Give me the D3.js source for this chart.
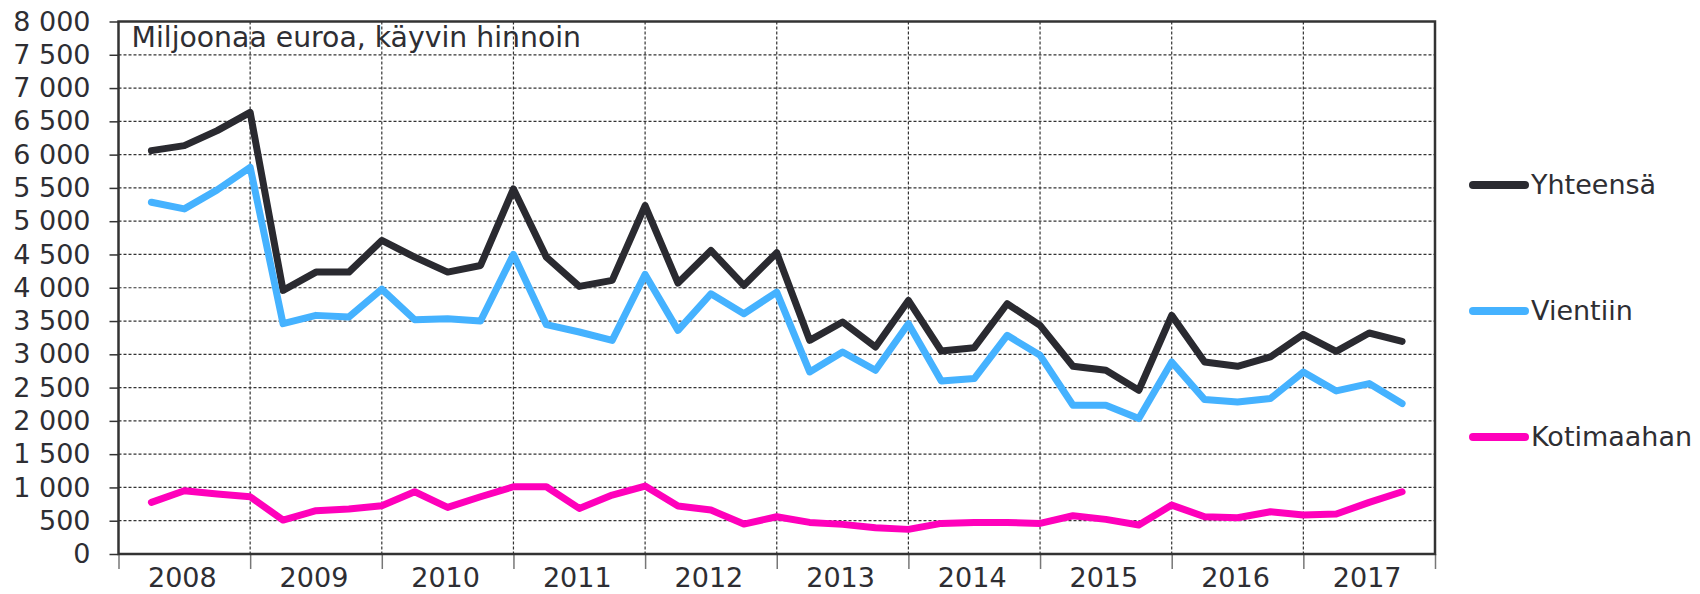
<!DOCTYPE html>
<html>
<head>
<meta charset="utf-8">
<script src="https://cdn.jsdelivr.net/npm/d3@7"></script>
<style>
	body { margin: 0; background: #fff; }
	text { font-family: "DejaVu Sans", Verdana, sans-serif; fill: #2e2e33; }
</style>
</head>
<body>
<div id="chart-area"></div>
<script>

// data: quarterly, 2008Q1 - 2017Q3 (million euro)
let years = ["2008", "2009", "2010", "2011", "2012", "2013", "2014", "2015", "2016", "2017"];
let seriesNames = ["Yhteensä", "Vientiin", "Kotimaahan"];
let yhteensa = [6060, 6135, 6360, 6635, 3960, 4235, 4235, 4710, 4460, 4235, 4335, 5485,
	4460, 4020, 4110, 5235, 4070, 4560, 4035, 4525, 3210, 3485, 3110, 3810,
	3050, 3100, 3760, 3435, 2820, 2760, 2460, 3585, 2885, 2820, 2960, 3300,
	3045, 3320, 3195];
let vientiin = [5285, 5185, 5470, 5810, 3460, 3585, 3560, 3980, 3520, 3535, 3500, 4500,
	3445, 3335, 3210, 4200, 3360, 3910, 3610, 3935, 2735, 3035, 2760, 3460,
	2600, 2635, 3285, 2985, 2235, 2235, 2035, 2885, 2320, 2285, 2335, 2735,
	2450, 2560, 2260];
let kotimaahan = [775, 950, 900, 860, 510, 650, 675, 725, 935, 700, 860, 1010,
	1010, 685, 885, 1020, 720, 660, 450, 560, 475, 445, 395, 370,
	460, 475, 475, 460, 575, 520, 435, 735, 560, 545, 635, 585,
	600, 775, 935];
let yTicks = d3.range(0, 8001, 500);
let colors = ["#2a2a30", "#45b2ff", "#ff00bb"];
let titleText = "Miljoonaa euroa, käyvin hinnoin";

// margin conventions
let margin = {top: 21.5, right: 265, bottom: 40, left: 118.5};
let width = 1700 - margin.left - margin.right;
let height = 594 - margin.top - margin.bottom;

let svg = d3.select("#chart-area").append("svg")
		.attr("width", 1700)
		.attr("height", 594)
	.append("g")
		.attr("transform", "translate(" + margin.left + "," + margin.top + ")");

// 4 quarters per year, points sit at the right end of each quarter
let xscale = d3.scaleLinear().domain([0, years.length * 4]).range([0, width]);
let yscale = d3.scaleLinear().domain([0, 8000]).range([height, 0]);

let fmt = d => d3.format(",")(d).replace(/,/g, " ");

// grid
svg.append("g").attr("class", "grid")
	.selectAll("line.h")
	.data(yTicks.filter(d => d > 0 && d < 8000))
	.enter().append("line")
	.attr("x1", 0).attr("x2", width)
	.attr("y1", d => yscale(d)).attr("y2", d => yscale(d))
	.attr("stroke", "#333").attr("stroke-width", 1.2)
	.attr("stroke-dasharray", "3,2");

svg.append("g").attr("class", "grid")
	.selectAll("line.v")
	.data(d3.range(1, years.length))
	.enter().append("line")
	.attr("x1", d => xscale(d * 4)).attr("x2", d => xscale(d * 4))
	.attr("y1", 0).attr("y2", height)
	.attr("stroke", "#333").attr("stroke-width", 1.2)
	.attr("stroke-dasharray", "3,2");

// axes
let yAxis = d3.axisLeft(yscale).tickValues(yTicks).tickSize(9).tickPadding(19).tickFormat(fmt);
let yAxisGroup = svg.append("g").attr("class", "axis y-axis").call(yAxis);
yAxisGroup.select(".domain").remove();
yAxisGroup.selectAll("line").attr("stroke", "#333").attr("stroke-width", 1.5);
yAxisGroup.selectAll("text")
	.style("font-size", "27px")
	.style("font-family", "'DejaVu Sans', Verdana, sans-serif")
	.attr("fill", "#2e2e33");

let xAxis = d3.axisBottom(xscale).tickValues(d3.range(0, years.length * 4 + 1, 4)).tickSize(15).tickFormat("");
let xAxisGroup = svg.append("g").attr("class", "axis x-axis")
	.attr("transform", "translate(0," + height + ")")
	.call(xAxis);
xAxisGroup.select(".domain").remove();
xAxisGroup.selectAll("line").attr("stroke", "#777").attr("stroke-width", 1.5);

svg.append("g").selectAll("text.year")
	.data(years)
	.enter().append("text")
	.attr("x", (d, i) => xscale(i * 4 + 2) - 2)
	.attr("y", height + 33)
	.attr("text-anchor", "middle")
	.style("font-size", "27px")
	.text(d => d);

// plot frame
svg.append("rect")
	.attr("width", width).attr("height", height)
	.attr("fill", "none")
	.attr("stroke", "#333").attr("stroke-width", 2.5);

svg.append("text")
	.attr("x", 13)
	.attr("y", 25.5)
	.style("font-size", "28.3px")
	.text(titleText);

// lines
let line = d3.line()
	.x((d, i) => xscale(i + 1))
	.y(d => yscale(d));

let allSeries = [yhteensa, vientiin, kotimaahan];

svg.selectAll("path.series")
	.data(allSeries)
	.enter().append("path")
	.attr("class", "series")
	.attr("fill", "none")
	.attr("stroke", (d, i) => colors[i])
	.attr("stroke-width", 7)
	.attr("stroke-linejoin", "round")
	.attr("stroke-linecap", "round")
	.attr("d", d => line(d));

// legend
let legendY = [185, 311, 437];
let legend = d3.select("svg").append("g").attr("class", "legend")
	.selectAll("g")
	.data(seriesNames)
	.enter().append("g")
	.attr("transform", (d, i) => "translate(1473," + legendY[i] + ")");

legend.append("line")
	.attr("x1", 0).attr("x2", 52)
	.attr("stroke", (d, i) => colors[i])
	.attr("stroke-width", 8)
	.attr("stroke-linecap", "round");

legend.append("text")
	.attr("x", 58)
	.attr("dy", "0.35em")
	.style("font-size", "27px")
	.text(d => d);

</script>
</body>
</html>
